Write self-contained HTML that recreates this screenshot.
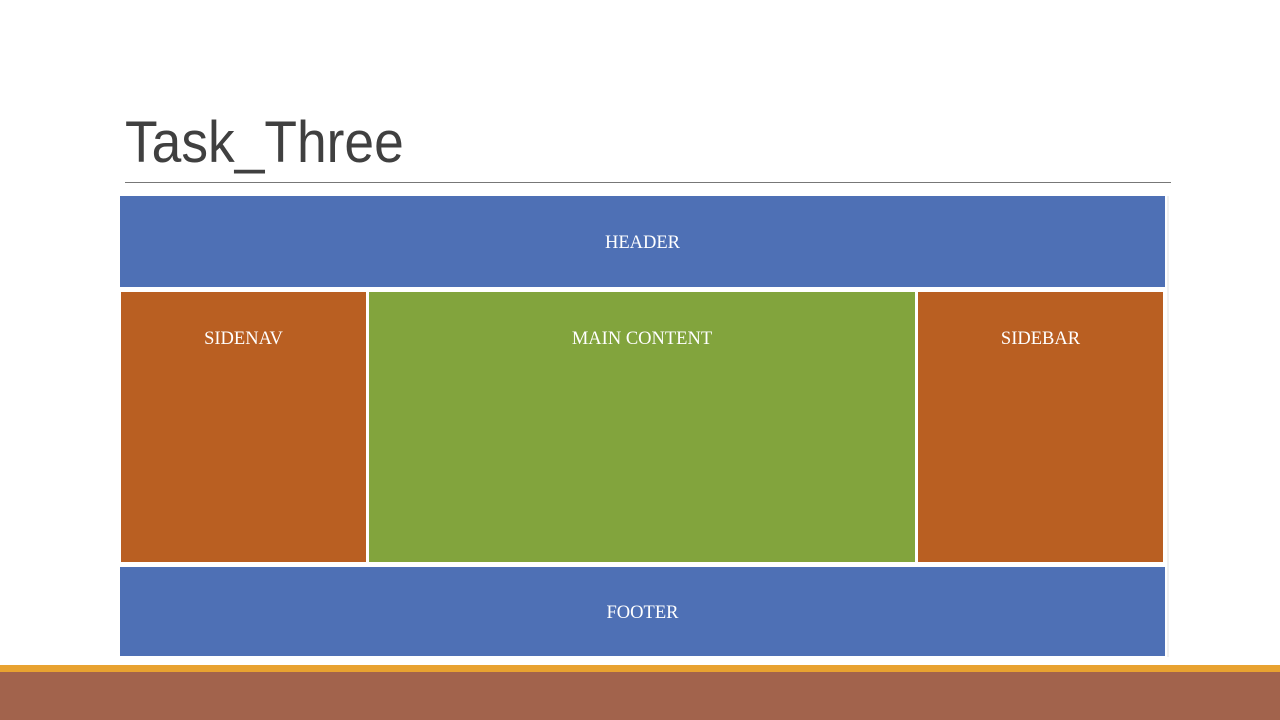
<!DOCTYPE html>
<html><head><style>
body{margin:0;width:1280px;height:720px;background:#fff;position:relative;overflow:hidden;font-family:"Liberation Serif",serif}
.a{position:absolute}
.b{position:absolute;color:#fff;font-size:18.5px;text-align:center}
.t{position:absolute;left:125px;top:108px;font-family:"Liberation Sans",sans-serif;font-size:58px;color:#404040;line-height:70px;transform:scaleX(0.92);transform-origin:0 0;white-space:nowrap}
</style></head><body>
<div class="t">Task_Three</div>
<div class="a" style="left:125px;top:182px;width:1046px;height:1px;background:#777"></div>
<div class="a" style="left:1167px;top:196px;width:2px;height:461px;background:#f0f0f0"></div>
<div class="b" style="left:120px;top:196px;width:1045px;height:91px;background:#4e70b5;line-height:95px">HEADER</div>
<div class="b" style="left:121px;top:292px;width:245px;height:270px;background:#b95f22"><div style="margin-top:37px">SIDENAV</div></div>
<div class="b" style="left:369px;top:292px;width:546px;height:270px;background:#82a43d"><div style="margin-top:37px">MAIN CONTENT</div></div>
<div class="b" style="left:918px;top:292px;width:245px;height:270px;background:#b95f22"><div style="margin-top:37px">SIDEBAR</div></div>
<div class="b" style="left:120px;top:567px;width:1045px;height:89px;background:#4e70b5;line-height:93px">FOOTER</div>
<div class="a" style="left:0;top:665px;width:1280px;height:7px;background:#e8a230"></div>
<div class="a" style="left:0;top:672px;width:1280px;height:48px;background:#a2634c"></div>
</body></html>
